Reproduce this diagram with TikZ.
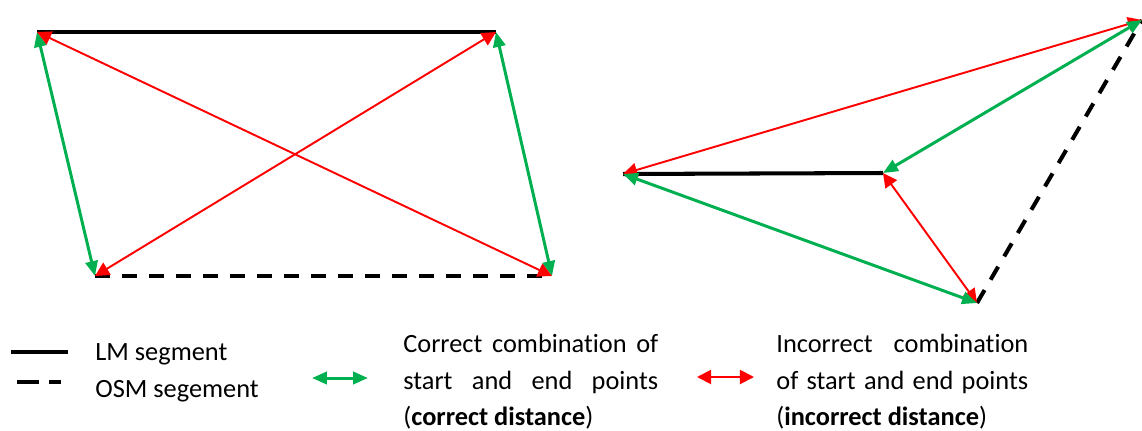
\documentclass[tikz,border=0pt]{standalone}
\usepackage{fontspec}
\setmainfont{Carlito}[Ligatures=NoCommon]
\usetikzlibrary{arrows.meta}
\definecolor{okgreen}{RGB}{0,176,80}
\newcommand{\justline}[2]{\makebox[#1][s]{#2}}

\begin{document}
\begin{tikzpicture}[
        x=0.02cm, y=-0.02cm,
        line join=round,
        lm/.style={line width=2.3pt},
        osm/.style={line width=2.3pt, dash pattern=on 0.3cm off 0.24cm},
        good/.style={okgreen, line width=1.7pt,
            {Triangle[length=8.5pt,width=7pt]}-{Triangle[length=8.5pt,width=7pt]}},
        bad/.style={red, line width=1.1pt,
            {Triangle[length=8pt,width=8pt]}-{Triangle[length=8pt,width=8pt]}},
        legtext/.style={anchor=base west, inner sep=0pt,
            font=\fontsize{15}{21}\selectfont}
    ]
    \useasboundingbox (0,0) rectangle (1142,430);

    % left pair: LM on top, OSM below
    \path (37,32) coordinate (lmA)
        (496,32) coordinate (lmB)
        (95,276) coordinate (osmA)
        (552,276) coordinate (osmB)
    % right pair
        (623,174) coordinate (lmC)
        (883,173) coordinate (lmD)
        (1142,20) coordinate (osmC)
        (977,303) coordinate (osmD)
    ;
    \draw[lm] (lmA) -- (lmB);
    \draw[osm] (osmA) -- (osmB);
    \draw[lm] (lmC) -- (lmD);
    \draw[osm] (osmD) -- (osmC);

    \draw[good] (lmA) -- (osmA);
    \draw[good] (lmB) -- (osmB);
    \draw[bad] (lmA) -- (osmB);
    \draw[bad] (lmB) -- (osmA);

    \draw[bad] (lmC) -- (osmC);
    \draw[bad] (lmD) -- (osmD);
    \draw[good] (lmD) -- (osmC);
    \draw[good] (lmC) -- (osmD);

    % legend
    \path (11,352) coordinate (solidL) (68,352) coordinate (solidR)
        (17,382) coordinate (dashL) (61,382) coordinate (dashR)
        (312,378) coordinate (goodL) (368,378) coordinate (goodR)
        (697,377) coordinate (badL) (754,377) coordinate (badR);
    \draw[lm] (solidL) -- (solidR);
    \draw[line width=2.3pt, dash pattern=on 0.44cm off 0.2cm] (dashL) -- (dashR);
    \draw[good] (goodL) -- (goodR);
    \draw[bad] (badL) -- (badR);

    \node[legtext] (lmlabel) at (95,360) {LM segment};
    \node[legtext] (osmlabel) at (95,397) {OSM segement};

    \node[legtext] (good1) at (403,352) {\justline{5.1cm}{Correct combination of}};
    \node[legtext] (good2) at (403,389) {\justline{5.1cm}{start and end points}};
    \node[legtext] (good3) at (403,425) {(\textbf{correct distance})};

    \node[legtext] (bad1) at (776,352) {\justline{5.04cm}{Incorrect combination}};
    \node[legtext] (bad2) at (776,389) {\justline{5.04cm}{of start and end points}};
    \node[legtext] (bad3) at (776,425) {(\textbf{incorrect distance})};
\end{tikzpicture}
\end{document}
